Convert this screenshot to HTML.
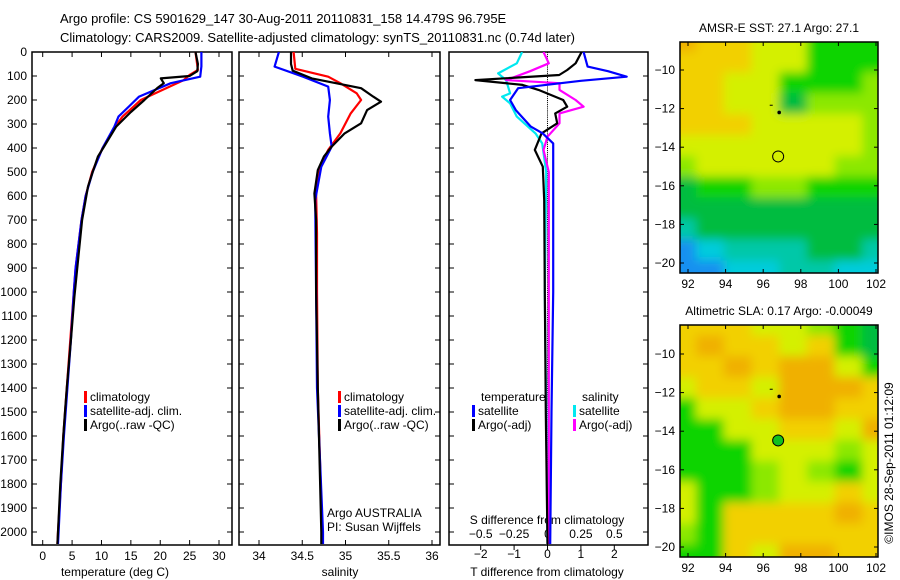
<!DOCTYPE html>
<html><head><meta charset="utf-8">
<style>
html,body{margin:0;padding:0;background:#fff;}
svg{display:block;font-family:"Liberation Sans",sans-serif;}
text{font-size:12px;fill:#000;}
</style></head>
<body>
<svg id="chart" width="900" height="580" viewBox="0 0 900 580">
<defs>
<filter id="blur" x="-10%" y="-10%" width="120%" height="120%"><feGaussianBlur stdDeviation="5"/></filter>
<clipPath id="clipM1"><rect x="680" y="42" width="198" height="231"/></clipPath>
<clipPath id="clipM2"><rect x="680" y="325" width="198" height="232"/></clipPath>
<clipPath id="clipP1"><rect x="32" y="52" width="200" height="493"/></clipPath>
<clipPath id="clipP2"><rect x="239" y="52" width="201" height="493"/></clipPath>
<clipPath id="clipP3"><rect x="449" y="52" width="199" height="493"/></clipPath>
</defs>
<text x="60" y="23" style="font-size:13px">Argo profile: CS 5901629_147 30-Aug-2011 20110831_158 14.479S 96.795E</text>
<text x="60" y="42" style="font-size:13px">Climatology: CARS2009. Satellite-adjusted climatology: synTS_20110831.nc (0.74d later)</text>
<g id="layer"></g>
</svg>
<script>
// ---------- data ----------
const tempDepthArgo = [0,50,80,100,110,130,150,200,250,311,400,436,500,561,700,894,1019,1200,1400,1500,1600,1800,2000,2050];
const tempArgo      = [26.0,26.4,26.3,25.0,20.1,20.6,19.5,17.3,15.0,12.5,10.3,9.4,8.5,7.7,6.7,5.9,5.4,4.8,4.1,3.8,3.5,3.0,2.6,2.5];
const tempDepthClim = [0,75,96,117,151,200,269,311,400,500,600,700,900,1000,1200,1400,1600,1800,2000,2050];
const tempClim      = [26.0,26.4,25.0,24.0,21.0,16.7,13.6,12.3,10.2,8.4,7.3,6.6,5.6,5.3,4.7,4.1,3.5,3.1,2.6,2.5];
const tempDepthSat  = [0,60,103,130,186,269,311,400,500,600,700,900,1000,1200,1400,1600,1800,2000,2050];
const tempSat       = [27.0,27.0,26.8,21.8,16.4,12.9,12.2,10.2,8.5,7.3,6.6,5.6,5.3,4.8,4.2,3.6,3.1,2.7,2.6];

const salDepthArgo = [0,50,78,110,130,151,186,207,242,297,339,394,436,492,589,700,1000,1400,2000,2050];
const salArgo      = [34.37,34.37,34.39,34.61,34.89,35.18,35.32,35.41,35.25,35.18,34.99,34.84,34.75,34.68,34.64,34.66,34.66,34.68,34.72,34.72];
const salDepthClim = [0,70,103,130,172,200,256,339,408,478,589,756,1000,1400,2000,2050];
const salClim      = [34.40,34.42,34.80,34.94,35.13,35.18,35.06,34.94,34.80,34.71,34.66,34.67,34.67,34.68,34.73,34.73];
const salDepthSat  = [0,61,103,144,200,269,339,394,478,617,1000,1400,2000,2050];
const salSat       = [34.23,34.18,34.51,34.80,34.82,34.80,34.82,34.84,34.72,34.65,34.66,34.67,34.74,34.74];

const dDepthTArgo = [0,47,75,96,117,137,158,200,228,256,297,339,408,478,617,1000,1500,2050];
const dTArgo      = [1.02,0.84,0.59,0.35,-2.16,-0.75,-0.27,0.47,0.59,0.23,0.29,-0.18,-0.38,-0.14,-0.10,-0.08,-0.05,0.0];
const dDepthTSat  = [0,61,80,103,120,151,200,242,311,339,381,500,1000,1500,2050];
const dTSat       = [1.08,1.20,1.81,2.37,1.00,-0.88,-1.12,-0.95,-0.50,-0.14,0.17,0.17,0.17,0.12,0.08];
const dDepthSArgo = [0,47,80,117,130,158,200,228,256,297,353,408,500,1000,1500,2050];
const dSArgo      = [-0.03,0.01,-0.13,-0.31,0.09,0.09,0.21,0.27,0.09,0.09,0.0,-0.03,0.01,0.01,0.01,0.01];
const dDepthSSat  = [0,47,89,117,172,186,214,269,339,381,500,1000,1500,2050];
const dSSat       = [-0.19,-0.23,-0.37,-0.31,-0.28,-0.34,-0.28,-0.23,-0.09,-0.04,-0.01,-0.02,-0.01,0.0];

const depthTicks = [0,100,200,300,400,500,600,700,800,900,1000,1100,1200,1300,1400,1500,1600,1700,1800,1900,2000];
const tempTicks = [0,5,10,15,20,25,30];
const salTicks = [34,34.5,35,35.5,36];
const dTTicks = [-2,-1,0,1,2];
const dSTicks = [-0.5,-0.25,0,0.25,0.5];
const lonTicks = [92,94,96,98,100,102];
const latTicks = [-10,-12,-14,-16,-18,-20];

// map grids (rows from north to south, 8 columns west to east)
const sstGrid = [
"OYYLLGGG","YYYLLGGG","YYLLGGGH","YYLLDHHH","YYYLLLLH","LLLLLLLH",
"HLLLLLHH","DGGHHGGG","DDDDDDDD","TDDDDDDD","BCTTTDDT","BBCCTTCC"];
const slaGrid = [
"YYYLLHGD","YOYYLYGD","YYOYOOLG","LYYLOOOY","GLLYOOYY","GGLLYYLO",
"GGGLLLHL","GGGHLHGL","LGGHLLYL","LGYYYYOY","HGYYYYYY","GGYLOOYY"];
const palette = {O:"#f0b000",Y:"#f2d000",L:"#d4f000",H:"#8ce800",G:"#10d400",D:"#00bc40",T:"#00c8a8",C:"#00ccdc",B:"#1890f0"};

// ---------- helpers ----------
const NS = "http://www.w3.org/2000/svg";
const layer = document.getElementById("layer");
function mk(tag, attrs, parent){
  const e = document.createElementNS(NS, tag);
  for (const k in attrs) e.setAttribute(k, attrs[k]);
  (parent||layer).appendChild(e);
  return e;
}
const yD = d => 52 + d*0.24;
const xT = t => 42.7 + t*5.877;
const xS = s => 259 + (s-34)*86.5;
const xDT = t => 547.5 + t*33.4;
const xDS = s => 547.5 + s*133.6;
const TOP = 52, BOT = 545;

function panelFrame(x0, x1, name){
  const r = mk("rect",{x:x0,y:TOP,width:x1-x0,height:BOT-TOP,fill:"none",stroke:"#000","stroke-width":1.5});
  
  
  depthTicks.forEach(d=>{
    mk("line",{x1:x0,x2:x0+5,y1:yD(d),y2:yD(d),stroke:"#000"});
    mk("line",{x1:x1-5,x2:x1,y1:yD(d),y2:yD(d),stroke:"#000"});
  });
}
function xTicks(ticks, fx, labels, yLab, name){
  ticks.forEach((t,i)=>{
    mk("line",{x1:fx(t),x2:fx(t),y1:BOT,y2:BOT-5,stroke:"#000"});
    mk("line",{x1:fx(t),x2:fx(t),y1:TOP,y2:TOP+5,stroke:"#000"});
    const tx = mk("text",{x:fx(t),y:yLab,"text-anchor":"middle"});
    tx.textContent = labels[i];
    
    
  });
}
function profile(depths, vals, fx, color, clip, name){
  let d = "";
  depths.forEach((dp,i)=>{ d += (i?"L":"M") + fx(vals[i]).toFixed(1) + "," + yD(dp).toFixed(1); });
  const p = mk("path",{d:d,fill:"none",stroke:color,"stroke-width":2.2,"clip-path":"url(#"+clip+")","stroke-linejoin":"round"});
  
  
}
function label(x,y,txt,name,anchor,size){
  const t = mk("text",{x:x,y:y,"text-anchor":anchor||"start"});
  if (size) t.style.fontSize = size+"px";
  t.textContent = txt;
  
  
  return t;
}
function legend(x,y,color,txt,name){
  const b = mk("rect",{x:x,y:y-10,width:3,height:12,fill:color});
  
  
  label(x+6,y,txt,name);
}

// ---------- panel 1 temperature ----------
panelFrame(32, 232, "temperature-panel");
depthTicks.forEach(d=>{
  label(27, yD(d)+4, String(d), "depth-tick-label", "end");
});
xTicks(tempTicks, xT, tempTicks.map(String), 560, "temperature");
label(115, 576, "temperature (deg C)", "temperature-axis-title", "middle");
profile(tempDepthClim, tempClim, xT, "#ff0000", "clipP1", "temp-climatology-line");
profile(tempDepthSat, tempSat, xT, "#0000ff", "clipP1", "temp-satellite-line");
profile(tempDepthArgo, tempArgo, xT, "#000000", "clipP1", "temp-argo-line");
legend(84,401,"#ff0000","climatology","temp-legend-climatology");
legend(84,415,"#0000ff","satellite-adj. clim.","temp-legend-satellite");
legend(84,429,"#000000","Argo(..raw -QC)","temp-legend-argo");

// ---------- panel 2 salinity ----------
panelFrame(239, 440, "salinity-panel");
xTicks(salTicks, xS, ["34","34.5","35","35.5","36"], 560, "salinity");
label(340, 576, "salinity", "salinity-axis-title", "middle");
profile(salDepthClim, salClim, xS, "#ff0000", "clipP2", "sal-climatology-line");
profile(salDepthSat, salSat, xS, "#0000ff", "clipP2", "sal-satellite-line");
profile(salDepthArgo, salArgo, xS, "#000000", "clipP2", "sal-argo-line");
legend(338,401,"#ff0000","climatology","sal-legend-climatology");
legend(338,415,"#0000ff","satellite-adj. clim.","sal-legend-satellite");
legend(338,429,"#000000","Argo(..raw -QC)","sal-legend-argo");
label(327,517,"Argo AUSTRALIA","argo-institution-label");
label(327,531,"PI: Susan Wijffels","pi-label");

// ---------- panel 3 differences ----------
panelFrame(449, 648, "difference-panel");
for (let d=0; d<=2050; d+=8){
  mk("line",{x1:xDT(0),x2:xDT(0),y1:yD(d),y2:yD(d)+1,stroke:"#000","stroke-width":1});
}
dTTicks.forEach(t=>{
  mk("line",{x1:xDT(t),x2:xDT(t),y1:BOT,y2:BOT+5,stroke:"#000"});
  label(xDT(t), 558, (t<0?"\u2212":"")+Math.abs(t), "t-diff-tick-label", "middle");
});
dSTicks.forEach(t=>{
  label(xDS(t), 538, (t<0?"\u2212":"")+Math.abs(t), "s-diff-tick-label", "middle");
});
label(547, 524, "S difference from climatology", "s-diff-axis-title", "middle");
label(547, 576, "T difference from climatology", "t-diff-axis-title", "middle");
profile(dDepthSSat, dSSat, xDS, "#00e8f0", "clipP3", "s-diff-satellite-line");
profile(dDepthSArgo, dSArgo, xDS, "#ff00ff", "clipP3", "s-diff-argo-line");
profile(dDepthTArgo, dTArgo, xDT, "#000000", "clipP3", "t-diff-argo-line");
profile(dDepthTSat, dTSat, xDT, "#0000ff", "clipP3", "t-diff-satellite-line");
label(481,401,"temperature","diff-legend-temperature-header");
legend(472,415,"#0000ff","satellite","diff-legend-t-satellite");
legend(472,429,"#000000","Argo(-adj)","diff-legend-t-argo");
label(582,401,"salinity","diff-legend-salinity-header");
legend(573,415,"#00e8f0","satellite","diff-legend-s-satellite");
legend(573,429,"#ff00ff","Argo(-adj)","diff-legend-s-argo");

// ---------- maps ----------
function drawMap(grid, top, bottom, y10, clip, name, title, filledCircle){
  const L=680, R=878;
  const xL = lon => 688 + (lon-92)*18.8;
  const yL = lat => y10 + (-10-lat)*19.3;
  const g = mk("g",{"clip-path":"url(#"+clip+")"});
  
  
  const inner = mk("g",{filter:"url(#blur)"}, g);
  const nr = grid.length, nc = grid[0].length;
  const lon0 = 91.0, lon1 = 102.8, lat0 = -8.0, lat1 = -21.0;
  for (let r=0;r<nr;r++) for (let c=0;c<nc;c++){
    const x0 = xL(lon0 + (lon1-lon0)*c/nc), x1 = xL(lon0 + (lon1-lon0)*(c+1)/nc);
    const y0 = yL(lat0 + (lat1-lat0)*r/nr), y1 = yL(lat0 + (lat1-lat0)*(r+1)/nr);
    mk("rect",{x:x0-1,y:y0-1,width:x1-x0+2,height:y1-y0+2,fill:palette[grid[r][c]]}, inner);
  }
  const fr = mk("rect",{x:L,y:top,width:R-L,height:bottom-top,fill:"none",stroke:"#000","stroke-width":1.5});
  
  
  lonTicks.forEach(lon=>{
    mk("line",{x1:xL(lon),x2:xL(lon),y1:bottom,y2:bottom-4,stroke:"#000"});
    mk("line",{x1:xL(lon),x2:xL(lon),y1:top,y2:top+4,stroke:"#000"});
    label(xL(lon), bottom+15, String(lon), name+"-lon-tick-label", "middle");
  });
  latTicks.forEach(lat=>{
    mk("line",{x1:L,x2:L+4,y1:yL(lat),y2:yL(lat),stroke:"#000"});
    mk("line",{x1:R-4,x2:R,y1:yL(lat),y2:yL(lat),stroke:"#000"});
    label(L-5, yL(lat)+4, "\u2212"+Math.abs(lat), name+"-lat-tick-label", "end");
  });
  label(779, top-10, title, name+"-title", "middle");
  mk("rect",{x:xL(96.4)-1,y:yL(-11.8),width:3,height:1,fill:"#000"});
  const dot = mk("circle",{cx:xL(96.85),cy:yL(-12.2),r:1.8,fill:"#000"});
  
  
  const c = mk("circle",{cx:xL(96.795),cy:yL(-14.479),r:5.5,fill:filledCircle||"none",stroke:"#000","stroke-width":1});
  
  
}
drawMap(sstGrid, 42, 273, 70, "clipM1", "sst-map", "AMSR-E SST: 27.1 Argo: 27.1");
drawMap(slaGrid, 325, 557, 354, "clipM2", "sla-map", "Altimetric SLA: 0.17 Argo: -0.00049", "#10c020");

const imos = label(0,0,"\u00a9IMOS 28-Sep-2011 01:12:09","imos-timestamp","middle");
imos.setAttribute("transform","translate(893,463) rotate(-90)");
</script>
</body></html>
